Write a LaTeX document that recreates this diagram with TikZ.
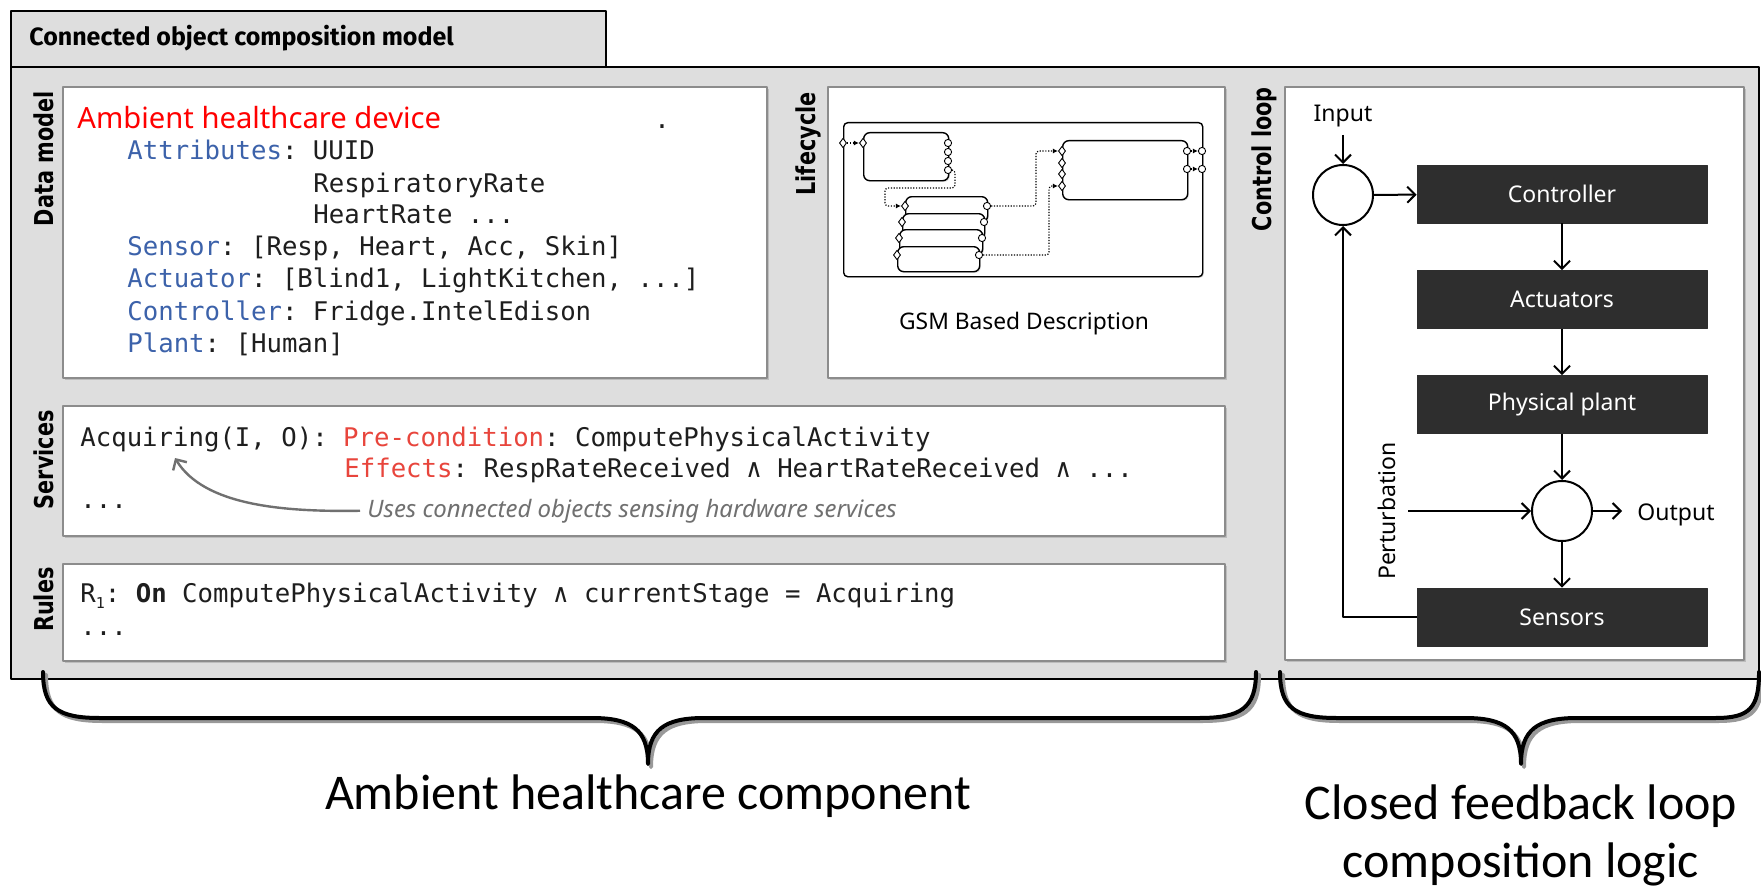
\documentclass[tikz,border=0pt]{standalone}
\usepackage{fontspec}
\setmainfont{Noto Sans}
\newfontfamily\lblfont{DejaVu Sans}
\newfontfamily\codefamily{DejaVu Sans Mono}
\newfontfamily\calfont{Carlito}
\newfontfamily\firafont{Fira Sans}
\usetikzlibrary{arrows.meta,shapes.geometric,shadows}
\frenchspacing

\definecolor{keyblue}{HTML}{3C62AA}
\definecolor{titlered}{HTML}{FF0000}
\definecolor{kwred}{HTML}{E8453C}
\definecolor{codegray}{HTML}{1E1E1E}
\definecolor{framegray}{HTML}{DEDEDE}
\definecolor{boxborder}{HTML}{8C8C8C}
\definecolor{ctrlfill}{HTML}{2E2E2E}
\definecolor{notegray}{HTML}{707070}

\newcommand\kw[1]{\textcolor{keyblue}{#1}}
\newcommand\kr[1]{\textcolor{kwred}{#1}}
\newcommand\sidelabel[1]{\scalebox{0.8}[1]{#1}}

\begin{document}
\begin{tikzpicture}[x=0.5pt, y=-0.5pt, line join=round,
  frame/.style={draw=black, fill=framegray, line width=1.2pt},
  panel/.style={draw=boxborder, fill=white, line width=1pt, inner sep=0pt,
    anchor=north west,
    drop shadow={shadow xshift=0.9pt, shadow yshift=-0.9pt, opacity=0.35}},
  side/.style={rotate=90, anchor=base east, inner sep=0pt,
    font=\lblfont\bfseries\fontsize{13}{13}\selectfont},
  code/.style={anchor=base west, inner sep=0pt, text=codegray,
    font=\codefamily\fontsize{12.84}{16}\selectfont},
  block/.style={fill=ctrlfill, draw=ctrlfill, minimum width=145pt,
    minimum height=29pt, inner sep=0pt, text=white,
    font=\fontsize{11.5}{12}\selectfont},
  sumnode/.style={circle, draw, line width=1pt, fill=white,
    minimum size=30pt, inner sep=0pt},
  arr/.style={line width=1pt, -{Straight Barb[length=4pt,width=8pt]}},
  lbl/.style={inner sep=0pt, font=\fontsize{11.5}{12}\selectfont},
  gbox/.style={draw, fill=white, line width=0.7pt, inner sep=0pt,
    anchor=north west, rounded corners=3pt,
    drop shadow={shadow xshift=0.6pt, shadow yshift=-0.6pt, opacity=0.25}},
  gport/.style={diamond, draw, fill=white, inner sep=0pt,
    minimum width=3.6pt, minimum height=4.8pt, line width=0.45pt},
  cport/.style={circle, draw, fill=white, inner sep=0pt,
    minimum size=3.6pt, line width=0.45pt},
  flow/.style={line width=0.6pt, dash pattern=on 0.6pt off 0.8pt,
    rounded corners=1.5pt, -{Latex[length=2.6pt,width=2.6pt]}},
  notearr/.style={draw=notegray, line width=1.2pt,
    -{Straight Barb[length=4pt,width=8pt]}},
  brace/.style={line width=2pt, line cap=round},
  bigtext/.style={inner sep=0pt, font=\calfont\fontsize{25}{30}\selectfont}]

\useasboundingbox (0,0) rectangle (1761,888);
\fill[white] (0,0) rectangle (1761,888);

% outer frame with its title tab
\draw[frame] (11,67) rectangle (1759,679);
\draw[frame] (11,11) rectangle (606,67);
\node[anchor=base west, inner sep=0pt,
  font=\firafont\bfseries\fontsize{12.5}{13}\selectfont] (title) at (29,46)
  {Connected object composition model};

% section panels
\node[panel, minimum width=352pt, minimum height=145.5pt] (dm) at (62,86) {};
\node[panel, minimum width=198.5pt, minimum height=145.5pt] (lc) at (827,86) {};
\node[panel, minimum width=229.5pt, minimum height=286.5pt] (cl) at (1284,86) {};
\node[panel, minimum width=581pt, minimum height=65pt] (sv) at (62,405) {};
\node[panel, minimum width=581pt, minimum height=48.5pt] (rl) at (62,563) {};

% vertical section labels
\node[side] (ldm) at (53,91) {\sidelabel{Data model}};
\node[side] (llc) at (815,92) {\sidelabel{Lifecycle}};
\node[side] (lcl) at (1271,87) {\sidelabel{Control loop}};
\node[side] (lsv) at (53,410) {\sidelabel{Services}};
\node[side] (lrl) at (53,567) {\sidelabel{Rules}};

% data model
\node[anchor=base west, inner sep=0pt, text=titlered,
  font=\fontsize{14.6}{15}\selectfont] (dev) at (77,128) {Ambient healthcare device};
\node[code, anchor=base] (dot) at (662,128) {.};
\node[code] (dm1) at (127,160) {\kw{Attributes}: UUID};
\node[code] (dm2) at (313,192) {RespiratoryRate};
\node[code] (dm3) at (313,223) {HeartRate ...};
\node[code] (dm4) at (127,255) {\kw{Sensor}: [Resp, Heart, Acc, Skin]};
\node[code] (dm5) at (127,287) {\kw{Actuator}: [Blind1, LightKitchen, ...]};
\node[code] (dm6) at (127,320) {\kw{Controller}: Fridge.IntelEdison};
\node[code] (dm7) at (127,352) {\kw{Plant}: [Human]};

% services
\node[code] (sv1) at (80,446) {Acquiring(I, O): \kr{Pre-condition}: ComputePhysicalActivity};
\node[code] (sv2) at (344,477) {\kr{Effects}: RespRateReceived ∧ HeartRateReceived ∧ ...};
\node[code] (sv3) at (80,508) {...};
\node[anchor=base west, inner ysep=0pt, inner xsep=3.5pt, text=notegray,
  font=\itshape\fontsize{12}{12}\selectfont] (note) at (360,517)
  {Uses connected objects sensing hardware services};
\coordinate (acq) at (175,458);
\draw[notearr] (note.west) .. controls (285,512) and (204,506) .. (acq);

% rules
\node[code] (rl1) at (80,602) {R\raisebox{-0.45ex}{\fontsize{7.5}{7.5}\selectfont 1}: \textbf{On} ComputePhysicalActivity ∧ currentStage = Acquiring};
\node[code] (rl2) at (80,635) {...};

% lifecycle: GSM stages
\node[gbox, rounded corners=2pt, minimum width=179.5pt, minimum height=77pt] (gsm) at (843,122) {};
\node[gbox, minimum width=42.5pt, minimum height=24pt] (sa) at (863,132) {};
\node[gbox, minimum width=41pt, minimum height=12.5pt] (s1) at (905,196) {};
\node[gbox, minimum width=41pt, minimum height=12.5pt] (s2) at (902,213) {};
\node[gbox, minimum width=41.5pt, minimum height=12.5pt] (s3) at (899,229) {};
\node[gbox, minimum width=41pt, minimum height=12.5pt] (s4) at (897,246) {};
\node[gbox, minimum width=62.5pt, minimum height=29.5pt] (sb) at (1062,140) {};

\node[gport] (pin) at (843,143) {};
\node[gport] (pa0) at (863,143) {};
\node[cport] (pa1) at (948,143) {};
\node[cport] (pa2) at (948,152) {};
\node[cport] (pa3) at (948,161) {};
\node[cport] (pa4) at (948,170) {};
\node[gport] (ps1) at (905,206) {};
\node[gport] (ps2) at (902,222) {};
\node[gport] (ps3) at (899,238) {};
\node[gport] (ps4) at (897,255) {};
\node[cport] (qs1) at (987,206) {};
\node[cport] (qs2) at (984,222) {};
\node[cport] (qs3) at (982,238) {};
\node[cport] (qs4) at (979,255) {};
\node[gport] (pb1) at (1062,151) {};
\node[gport] (pb2) at (1062,163) {};
\node[gport] (pb3) at (1062,174) {};
\node[gport] (pb4) at (1062,186) {};
\node[cport] (qb1) at (1187,151) {};
\node[cport] (qb2) at (1187,169) {};
\node[cport] (qo1) at (1202,151) {};
\node[cport] (qo2) at (1202,169) {};

\draw[flow] (pin) -- (pa0);
\draw[flow] (pa4.east) -- (955,170) -- (955,188) -- (885,188) -- (885,206) -- (ps1.west);
\draw[flow] (qs1.east) -- (1036,206) -- (1036,151) -- (pb1.west);
\draw[flow] (qs4.east) -- (1049,255) -- (1049,186) -- (pb4.west);
\draw[flow] (qb1) -- (qo1);
\draw[flow] (qb2) -- (qo2);

\node[anchor=base, inner sep=0pt, font=\fontsize{11.4}{12}\selectfont] (gsmlbl) at (1024,329) {GSM Based Description};

% control loop
\node[block] (ctrl) at (1562,194) {Controller};
\node[block] (act) at (1562,299.5) {Actuators};
\node[block] (plant) at (1562,404.5) {Physical plant};
\node[block] (sens) at (1562,617) {Sensors};
\node[sumnode] (sum1) at (1343,195) {};
\node[sumnode] (sum2) at (1562,511) {};
\node[lbl, anchor=base] (inlbl) at (1343,122) {Input};
\coordinate (inp) at (1343,135);
\node[lbl, anchor=base west] (outlbl) at (1637,520) {Output};
\coordinate (outp) at (1622,511);
\node[lbl, rotate=90, anchor=base] (pertlbl) at (1395,511) {Perturbation};
\coordinate (pert) at (1408,511);

\draw[arr] (inp) -- (sum1);
\draw[arr] (sum1) -- (ctrl);
\draw[arr] (ctrl) -- (act);
\draw[arr] (act) -- (plant);
\draw[arr] (plant) -- (sum2);
\draw[arr] (sum2) -- (sens);
\draw[arr] (sum2) -- (outp);
\draw[arr] (pert) -- (sum2);
\draw[arr] (sens.west) -| (sum1.south);

% braces below the frame, each with a soft grey shadow
\begin{scope}[shift={(3,3)}]
\draw[brace, black!40] (43,672) .. controls (43,708) and (58,718) .. (100,718) -- (592,718) .. controls (632,718) and (648,730) .. (648,764) .. controls (648,730) and (664,718) .. (704,718) -- (1199,718) .. controls (1241,718) and (1256,708) .. (1256,672);
\draw[brace, black!40] (1280,672) .. controls (1280,708) and (1295,718) .. (1337,718) -- (1465,718) .. controls (1505,718) and (1521,730) .. (1521,764) .. controls (1521,730) and (1537,718) .. (1577,718) -- (1715,718) .. controls (1750,718) and (1759,708) .. (1759,672);
\end{scope}
\draw[brace] (43,672) .. controls (43,708) and (58,718) .. (100,718) -- (592,718) .. controls (632,718) and (648,730) .. (648,764) .. controls (648,730) and (664,718) .. (704,718) -- (1199,718) .. controls (1241,718) and (1256,708) .. (1256,672);
\draw[brace] (1280,672) .. controls (1280,708) and (1295,718) .. (1337,718) -- (1465,718) .. controls (1505,718) and (1521,730) .. (1521,764) .. controls (1521,730) and (1537,718) .. (1577,718) -- (1715,718) .. controls (1750,718) and (1759,708) .. (1759,672);

\node[bigtext, anchor=base] (cmp) at (648,809) {Ambient healthcare component};
\node[bigtext, anchor=base] (lg1) at (1521,819) {Closed feedback loop};
\node[bigtext, anchor=base] (lg2) at (1521,877) {composition logic};
\end{tikzpicture}
\end{document}
